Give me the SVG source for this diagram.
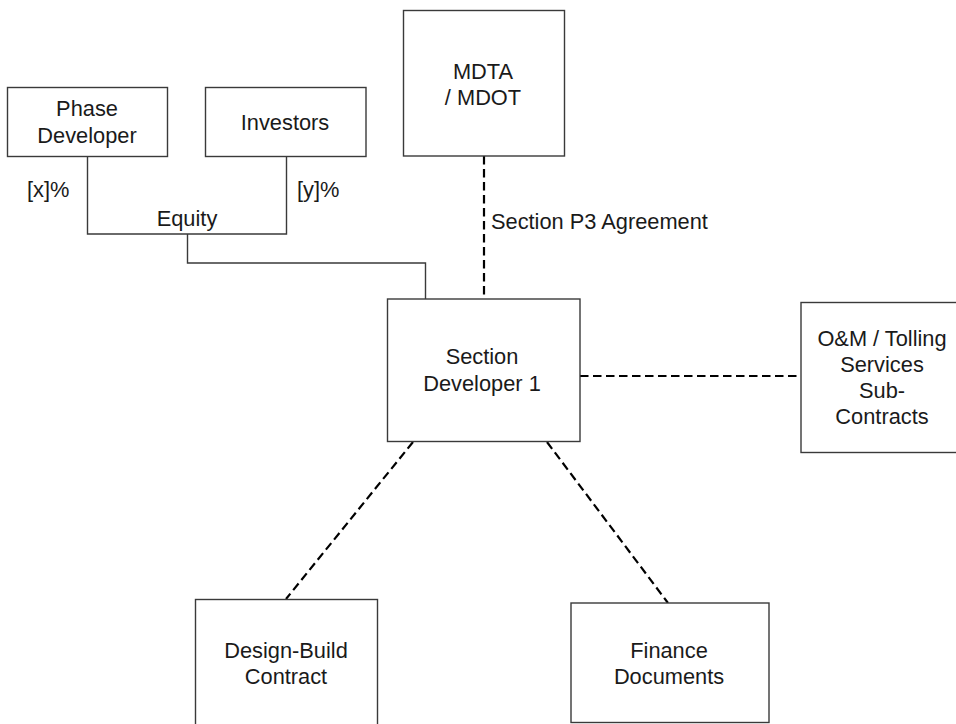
<svg xmlns="http://www.w3.org/2000/svg" width="956" height="724" viewBox="0 0 956 724">
<style>
.box{fill:#fff;stroke:#3a3a3a;stroke-width:1.4}
.t{font-family:"Liberation Sans",Arial,sans-serif;font-size:21.8px;fill:#1a1a1a;text-anchor:middle}
.l{font-family:"Liberation Sans",Arial,sans-serif;font-size:21.8px;fill:#1a1a1a}
.solid{fill:none;stroke:#3a3a3a;stroke-width:1.4}
.dash{fill:none;stroke:#000;stroke-width:2.2;stroke-dasharray:8.5 4.5}
</style>
<rect width="956" height="724" fill="#fff"/>
<g id="connectors">
<polyline class="solid" points="87.5,157 87.5,234 286.5,234 286.5,157"/>
<polyline class="solid" points="187.5,234 187.5,263 425.5,263 425.5,299"/>
<line class="dash" x1="484" y1="156" x2="484" y2="299"/>
<line class="dash" x1="580" y1="376" x2="801" y2="376"/>
<line class="dash" x1="413" y1="442" x2="286" y2="599"/>
<line class="dash" x1="547" y1="442" x2="668" y2="603"/>
<text class="l" x="27" y="197">[x]%</text>
<text class="l" x="297" y="197">[y]%</text>
<text class="t" x="187" y="225.5">Equity</text>
<text class="l" x="491" y="228.5">Section P3 Agreement</text>
</g>
<g id="phase-developer">
<rect class="box" x="7.5" y="87.5" width="160" height="69"/>
<text class="t" x="87" y="116">Phase</text>
<text class="t" x="87" y="143">Developer</text>
</g>
<g id="investors">
<rect class="box" x="205.5" y="87.5" width="160.5" height="69"/>
<text class="t" x="285" y="129.5">Investors</text>
</g>
<g id="mdta">
<rect class="box" x="403.5" y="10.5" width="161" height="145.5"/>
<text class="t" x="483" y="79">MDTA</text>
<text class="t" x="483" y="104.5">/ MDOT</text>
</g>
<g id="section-developer">
<rect class="box" x="387.5" y="299" width="192.5" height="142.5"/>
<text class="t" x="482" y="364">Section</text>
<text class="t" x="482" y="391">Developer 1</text>
</g>
<g id="om-tolling">
<rect class="box" x="801" y="302.5" width="163" height="150"/>
<text class="t" x="882" y="345.5">O&amp;M / Tolling</text>
<text class="t" x="882" y="372">Services</text>
<text class="t" x="882" y="397.5">Sub-</text>
<text class="t" x="882" y="423.5">Contracts</text>
</g>
<g id="design-build">
<rect class="box" x="195.5" y="599.5" width="182" height="140"/>
<text class="t" x="286" y="657.5">Design-Build</text>
<text class="t" x="286" y="683.5">Contract</text>
</g>
<g id="finance">
<rect class="box" x="571" y="603" width="198" height="119.5"/>
<text class="t" x="669" y="657.5">Finance</text>
<text class="t" x="669" y="684">Documents</text>
</g>
</svg>
